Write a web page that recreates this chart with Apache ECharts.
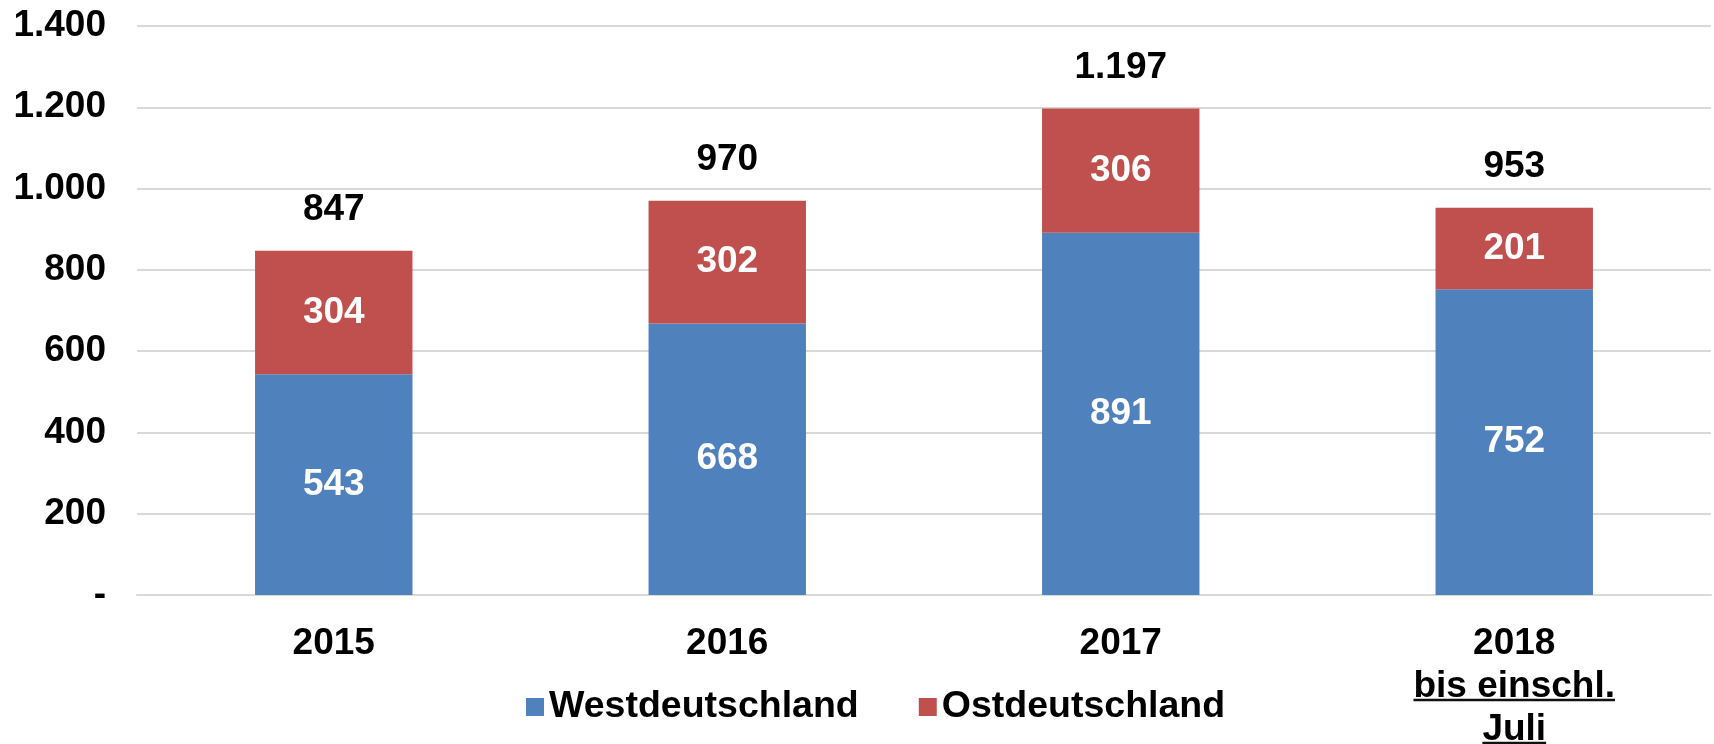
<!DOCTYPE html>
<html>
<head>
<meta charset="utf-8">
<script src="https://cdn.jsdelivr.net/npm/echarts@6/dist/echarts.min.js"></script>
<style>
  html, body { margin: 0; padding: 0; background: #fff; }
  #chart { width: 1714px; height: 744px; }
</style>
</head>
<body>
<div id="chart"></div>
<script>
  const categories = ['2015', '2016', '2017', '2018\nbis einschl.\nJuli'];
  const west = [543, 668, 891, 752];
  const ost = [304, 302, 306, 201];
  const totals = [847, 970, 1197, 953];

  const FONT = '"Liberation Sans", Arial, sans-serif';
  const FS = 37;
  const LINE_H = 43;
  const LABEL_MARGIN = 27;

  // german thousands separator
  function fmt(n) {
    return String(n).replace(/\B(?=(\d{3})+(?!\d))/g, '.');
  }

  const chart = echarts.init(document.getElementById('chart'));

  const labelBase = { fontSize: FS, fontWeight: 'bold', fontFamily: FONT };

  const option = {
    animation: false,
    textStyle: { fontFamily: FONT },
    grid: { left: 137, right: 3, top: 26, bottom: 149, outerBoundsMode: 'none' },
    legend: {
      data: ['Westdeutschland', 'Ostdeutschland'],
      left: 521,
      top: 683,
      itemWidth: 18,
      itemHeight: 18,
      itemGap: 60,
      icon: 'rect',
      textStyle: { fontSize: 37.5, fontWeight: 'bold', color: '#000', fontFamily: FONT }
    },
    xAxis: {
      type: 'category',
      data: categories,
      axisLine: { lineStyle: { color: '#d9d9d9', width: 2 } },
      axisTick: { show: false },
      axisLabel: Object.assign({}, labelBase, {
        interval: 0,
        margin: LABEL_MARGIN,
        color: '#000',
        lineHeight: LINE_H
      })
    },
    yAxis: {
      type: 'value',
      min: 0,
      max: 1400,
      interval: 200,
      axisLine: { show: false },
      axisTick: { show: false },
      splitLine: { lineStyle: { color: '#d9d9d9', width: 2 } },
      axisLabel: Object.assign({}, labelBase, {
        margin: 31,
        color: '#000',
        formatter: v => (v === 0 ? '-' : fmt(v))
      })
    },
    series: [
      {
        name: 'Westdeutschland',
        type: 'bar',
        stack: 'total',
        barWidth: '40%',
        itemStyle: { color: '#4f81bd' },
        label: Object.assign({}, labelBase, {
          show: true,
          position: 'inside',
          color: '#fff',
          formatter: p => fmt(p.value)
        }),
        data: west
      },
      {
        name: 'Ostdeutschland',
        type: 'bar',
        stack: 'total',
        barWidth: '40%',
        itemStyle: { color: '#c0504d' },
        label: Object.assign({}, labelBase, {
          show: true,
          position: 'inside',
          color: '#fff',
          formatter: p => fmt(p.value)
        }),
        data: ost
      },
      {
        name: 'Gesamt',
        type: 'bar',
        barWidth: '40%',
        barGap: '-100%',
        silent: true,
        z: 1,
        itemStyle: { color: 'rgba(255,255,255,0)' },
        label: Object.assign({}, labelBase, {
          show: true,
          position: 'top',
          distance: 22,
          color: '#000',
          formatter: p => fmt(p.value)
        }),
        data: totals
      }
    ]
  };

  chart.setOption(option);

  // underline the extra lines of multi-line category labels (2nd line onwards)
  const mctx = document.createElement('canvas').getContext('2d');
  mctx.font = 'bold ' + FS + 'px ' + FONT;
  const axisY = chart.convertToPixel({ yAxisIndex: 0 }, 0);
  const underlines = [];
  categories.forEach((c, i) => {
    const cx = chart.convertToPixel({ xAxisIndex: 0 }, i);
    c.split('\n').forEach((p, j) => {
      if (j === 0) return;
      const w = mctx.measureText(p).width;
      const y = axisY + LABEL_MARGIN + (j + 1) * LINE_H - 8;
      underlines.push({
        type: 'line',
        silent: true,
        shape: { x1: cx - w / 2, y1: y, x2: cx + w / 2, y2: y },
        style: { stroke: '#111', lineWidth: 2.5 }
      });
    });
  });
  chart.setOption({ graphic: underlines });
</script>
</body>
</html>
